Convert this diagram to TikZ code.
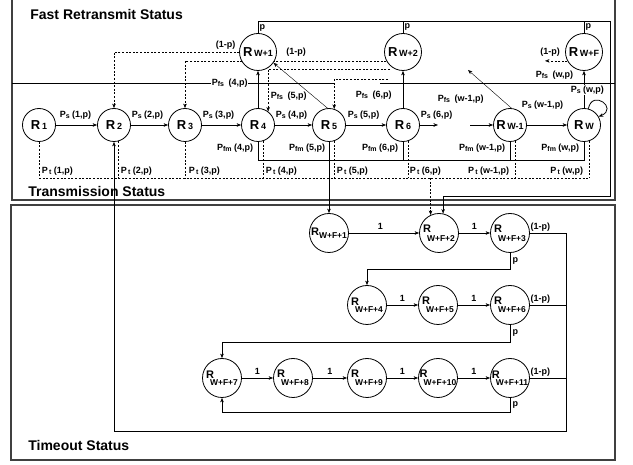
\documentclass[tikz,border=0pt]{standalone}
\usepackage{fontspec}
\setmainfont{Liberation Sans}
\usetikzlibrary{arrows.meta,positioning,calc,backgrounds}

\newcommand{\stname}[1]{\makebox[0pt]{{\fontsize{13}{13}\selectfont R}\,\raisebox{-0.5pt}{\fontsize{9}{9}\selectfont #1}}}
\newcommand{\prlab}[2]{P\raisebox{-1.5pt}{\fontsize{7}{7}\selectfont #1}\ (#2,p)}
\newcommand{\toa}[1]{\makebox[0pt]{{\fontsize{11}{11}\selectfont R}\raisebox{-2.5pt}{\fontsize{8.5}{8.5}\selectfont #1}}}
\newcommand{\tob}[1]{\makebox[0pt]{\shortstack[l]{{\fontsize{11}{12}\selectfont R}\\{\fontsize{8.5}{9}\selectfont\kern4pt #1}}}}
\newcommand{\toc}[1]{\makebox[0pt]{{\fontsize{11}{11}\selectfont R}\kern-4pt\raisebox{-7.5pt}{\fontsize{8.5}{8.5}\selectfont #1}}}

\begin{document}
\begin{tikzpicture}[x=1pt,y=-1pt,line width=0.7pt,
  lbl/.style={font=\fontsize{9}{10}\selectfont\bfseries, inner sep=0.5pt},
  wlbl/.style={lbl, fill=white},
  ttl/.style={font=\fontsize{14}{16}\selectfont\bfseries, anchor=west, inner sep=0pt},
  trs/.style={circle, draw, fill=white, line width=0.8pt, minimum size=33pt, inner sep=0pt, font=\bfseries},
  frs/.style={trs, minimum size=37pt},
  tos/.style={trs, minimum size=39pt},
  arr/.style={-{Stealth[length=4.5pt,width=3.5pt]}},
  dsh/.style={dash pattern=on 2pt off 1.6pt},
  statusbox/.style={draw=black!75, line width=1.1pt}]
  \useasboundingbox (0,0) rectangle (633,465);

  % fast retransmit states
  \node[frs] (fW1) at (258,52) {\stname{W+1}};
  \node[frs] (fW2) at (403,52) {\stname{W+2}};
  \node[frs] (fWF) at (584,52) {\stname{W+F}};
  % transmission states
  \foreach \n/\x/\s in {R1/39/1, R2/114/2, R3/185/3, R4/258/4, R5/329/5, R6/403/6, Rw1/510/W-1, Rw/584/W}
    \node[trs] (\n) at (\x,125) {\stname{\s}};
  % timeout states
  \node[tos] (t1) at (329,233) {\toa{W+F+1}};
  \node[tos] (t2) at (439,233) {\tob{W+F+2}};
  \node[tos] (t3) at (510,233) {\tob{W+F+3}};
  \foreach \n/\x/\y/\s in {t4/367/305/4, t5/438/305/5, t6/510/305/6, t7/222/378/7,
                           t8/293/378/8, t9/367/378/9, t10/438/378/10, t11/510/378/11}
    \node[tos] (\n) at (\x,\y) {\toc{W+F+\s}};

  \coordinate (d3) at (390,69);
  \coordinate (d4) at (388,79);
  \coordinate (wfl) at (545,61);
  \coordinate (wa) at (468,70);
  \coordinate (s6) at (438,125);
  \coordinate (s7) at (470,125);
  \coordinate (pfm) at (0,160);
  \coordinate (ptl) at (0,178);
  \coordinate (topr) at (610,21);
  \coordinate (rbend) at (610,196);
  \coordinate (back) at (566,431);

  \begin{scope}[on background layer]
    % status boxes
    \draw[statusbox] (12,-3) rectangle (615,200);
    \draw[statusbox] (11,205) rectangle (615,460);
    \draw (12,83) -- (335,83) (380,83) -- (615,83);
    % back to transmission with (1-p)
    \draw[dsh,arr] (fW1.west) -| (R2.north);
    \draw[dsh,arr] (fW2.209) -| (R3.north);
    \draw[dsh,arr] (d3) -| (R4.53);
    \draw[dsh,arr] (d4) -| (R5.72);
    \draw[dsh,arr] (fWF.208) -- (fWF.208 -| wfl);
    % into fast retransmit
    \draw[arr] (R4) -- (fW1);
    \draw[arr] (R5.95) -- (fW1.-35);
    \draw[arr] (R6) -- (fW2);
    \draw[arr] (Rw1.85) -- (wa);
    \draw[arr] (Rw) -- (fWF);
    \draw[arr, line width=0.8pt] (Rw.75) .. controls +(4,-20) and +(20,-8) .. (Rw.30);
    % successful transmissions
    \foreach \a/\b in {R1/R2, R2/R3, R3/R4, R4/R5, R5/R6, Rw1/Rw}
      \draw[arr] (\a) -- (\b);
    \draw[arr] (R6) -- (s6);
    \draw[arr] (s7) -- (Rw1);
    % Pfm to timeout
    \draw (R4.south) -- (R4.south |- pfm) -- (Rw.south |- pfm) -- (Rw.south);
    \foreach \n in {R6, Rw1}
      \draw (\n.south) -- (\n.south |- pfm);
    \draw[arr] (R5) -- (t1);
    % Pt to timeout
    \foreach \a in {R1.south, R2.-75, R3.south, R4.-72, R5.-72, R6.-72, Rw1.-72, Rw.-72}
      \draw[dsh] (\a) -- (\a |- ptl);
    \draw[dsh] (R1.south |- ptl) -- (Rw.-72 |- ptl);
    \draw[dsh,arr] (t2.115 |- ptl) -- (t2.115);
    % p out of fast retransmit
    \draw (fW1.north) |- (topr) node[lbl, pos=0.2, right=1pt] {p};
    \draw (fW2.north) -- (fW2.north |- topr) node[lbl, midway, right=1pt] {p};
    \draw (fWF.north) -- (fWF.north |- topr) node[lbl, midway, right=1pt] {p};
    \draw[arr] (topr) -- (rbend) -| (t2.78);
    % timeout chain
    \foreach \a/\b/\p in {t1/t2/0.45, t2/t3/0.5, t4/t5/0.5, t5/t6/0.5, t7/t8/0.5, t8/t9/0.5, t9/t10/0.5, t10/t11/0.5}
      \draw[arr] (\a) -- (\b) node[lbl, pos=\p, above=3pt] {1};
    \draw[arr] (t3.south) -- ++(0,16) node[lbl, midway, right=2pt] {p} -| (t4.north);
    \draw[arr] (t6.south) -- ++(0,17) node[lbl, midway, right=2pt] {p} -| (t7.north);
    \draw[arr] (t11.south) -- ++(0,14) node[lbl, midway, right=2pt] {p} -| (t7.south);
    \draw (t6.east) -- (t6.east -| back);
    \draw (t11.east) -- (t11.east -| back);
    \draw[arr] (t3.east) -| (back) -| (R2.south);
    \foreach \n in {t3, t6, t11}
      \node[lbl, anchor=south west] at ($(\n.east)+(0,-1)$) {(1-p)};
  \end{scope}

  % titles
  \node[ttl] (ftitle) at (30,14) {Fast Retransmit Status};
  \node[ttl] (ttitle) at (28,191) {Transmission Status};
  \node[ttl] (otitle) at (28,445) {Timeout Status};

  % (1-p) labels
  \node[lbl, anchor=south east] at ($(fW1.west)+(-3,-2)$) {(1-p)};
  \node[lbl] at (296,52) {(1-p)};
  \node[lbl] at (550,52) {(1-p)};

  % Ps labels
  \foreach \s/\x in {1/59, 2/131, 3/202, 4/275, 5/347, 6/420}
    \node[lbl, anchor=west] at (\x,115) {\prlab{s}{\s}};
  \node[lbl, anchor=west] at (521,105) {\prlab{s}{w-1}};
  \node[wlbl, anchor=west] at (570,90) {\prlab{s}{w}};

  % Pfs labels
  \node[wlbl, anchor=west] at (211,83) {\prlab{fs\ }{4}};
  \node[lbl, anchor=west] at (270,96) {\prlab{fs\ }{5}};
  \node[lbl, anchor=west] at (355,95) {\prlab{fs\ }{6}};
  \node[lbl, anchor=west] at (437,99) {\prlab{fs\ }{w-1}};
  \node[lbl, anchor=west] at (535,75) {\prlab{fs\ }{w}};

  % Pfm labels
  \foreach \s/\x in {4/254, 5/326, 6/399, w-1/506, w/580}
    \node[lbl, anchor=east] at (\x,148) {\prlab{fm}{\s}};

  % Pt labels
  \foreach \s/\x in {1/41, 2/120, 3/188, 4/265, 5/336, 6/409}
    \node[lbl, anchor=west] at (\x,171) {\prlab{\,t}{\s}};
  \node[lbl, anchor=east] at (510,171) {\prlab{\,t}{w-1}};
  \node[lbl, anchor=east] at (584,171) {\prlab{\,t}{w}};
\end{tikzpicture}
\end{document}
